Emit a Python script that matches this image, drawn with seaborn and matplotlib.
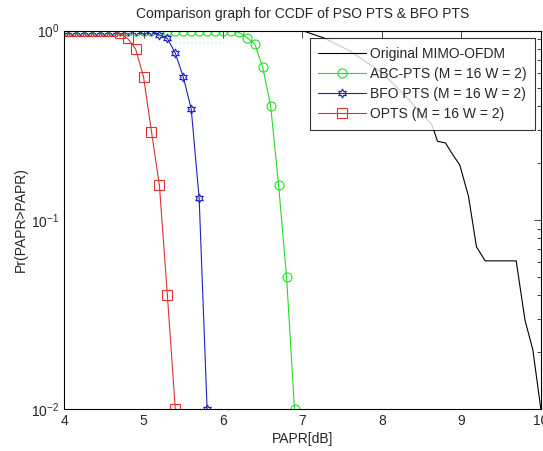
import numpy as np
import pandas as pd
import matplotlib
matplotlib.use("Agg")
import matplotlib.pyplot as plt
import seaborn as sns

# values
orig_x = [4.0, 7.0, 7.27, 7.6, 8.0, 8.3, 8.63, 8.70, 8.80, 8.88, 8.98, 9.09, 9.19, 9.30, 9.69, 9.80, 9.90, 10.0]
orig_y = [1.0, 1.0, 0.915, 0.78, 0.6, 0.45, 0.318, 0.26, 0.255, 0.225, 0.195, 0.133, 0.072, 0.0607, 0.0607, 0.0296, 0.0205, 0.01]

abc_x = [4.0, 4.1, 4.2, 4.3, 4.4, 4.5, 4.6, 4.7, 4.8, 4.9, 5.0, 5.1, 5.2, 5.3, 5.4,
         5.5, 5.6, 5.7, 5.8, 5.9, 6.0, 6.1, 6.2, 6.3, 6.4, 6.5, 6.6, 6.7, 6.8, 6.9]
abc_y = [1.0, 1.0, 1.0, 1.0, 1.0, 1.0, 1.0, 1.0, 1.0, 1.0, 1.0, 1.0, 1.0, 1.0, 1.0,
         1.0, 1.0, 1.0, 1.0, 1.0, 1.0, 1.0, 0.98, 0.92, 0.85, 0.64, 0.40, 0.152, 0.050, 0.01]

bfo_x = [4.0, 4.1, 4.2, 4.3, 4.4, 4.5, 4.6, 4.7, 4.8, 4.9, 5.0, 5.1, 5.2, 5.3, 5.4, 5.5, 5.6, 5.7, 5.8]
bfo_y = [1.0, 1.0, 1.0, 1.0, 1.0, 1.0, 1.0, 1.0, 1.0, 1.0, 1.0, 0.99, 0.95, 0.91, 0.76, 0.57, 0.386, 0.130, 0.01]

opts_x = [4.0, 4.1, 4.2, 4.3, 4.4, 4.5, 4.6, 4.7, 4.8, 4.9, 5.0, 5.1, 5.2, 5.3, 5.4]
opts_y = [1.0, 1.0, 1.0, 1.0, 1.0, 1.0, 1.0, 0.97, 0.91, 0.80, 0.57, 0.293, 0.152, 0.040, 0.01]

labels = ["Original MIMO-OFDM", "ABC-PTS (M = 16 W = 2)", "BFO PTS (M = 16 W = 2)", "OPTS (M = 16 W = 2)"]

sns.set_style("white")
plt.rcParams['font.family'] = ['Liberation Sans', 'DejaVu Sans']

fig = plt.figure(figsize=(5.43, 4.51), dpi=100)
ax = fig.add_axes([0.118, 0.093, 0.878, 0.839])

sns.lineplot(x=orig_x, y=orig_y, ax=ax, color='black', lw=0.8, label=labels[0])
sns.lineplot(x=abc_x, y=abc_y, ax=ax, color='#22dd22', lw=0.8, marker='o', markersize=6.5,
             markerfacecolor='none', markeredgecolor='#22dd22', markeredgewidth=0.8, label=labels[1])
sns.lineplot(x=bfo_x, y=bfo_y, ax=ax, color='#2020c0', lw=0.8, marker=(6, 1, 0), markersize=6.5,
             markerfacecolor='none', markeredgecolor='#2020c0', markeredgewidth=0.8, label=labels[2])
sns.lineplot(x=opts_x, y=opts_y, ax=ax, color='#e03030', lw=0.8, marker='s', markersize=7,
             markerfacecolor='none', markeredgecolor='#e03030', markeredgewidth=0.8, label=labels[3])

ax.set_yscale('log')
ax.set_xlim(4, 10)
ax.set_ylim(0.01, 1)
ax.set_xticks([4, 5, 6, 7, 8, 9, 10])
ax.tick_params(which='both', direction='in', top=True, right=True, labelsize=10)
ax.tick_params(which='major', length=5, width=0.6)
ax.tick_params(which='minor', length=3, width=0.6)
for s in ax.spines.values():
    s.set_color('black')
    s.set_linewidth(0.8)

ax.set_xlabel("PAPR[dB]", fontsize=10, labelpad=3)
ax.set_ylabel("Pr(PAPR>PAPR)", fontsize=10, labelpad=2)
ax.set_title("Comparison graph for CCDF of PSO PTS & BFO PTS", fontsize=10, pad=9)

leg = ax.legend(loc='upper right', bbox_to_anchor=(0.987, 0.980), fontsize=10,
                frameon=True, fancybox=False, handlelength=3.4, borderaxespad=0,
                borderpad=0.6, labelspacing=0.45, handletextpad=0.3)
leg.get_frame().set_edgecolor('black')
leg.get_frame().set_linewidth(0.8)

fig.savefig("out.png", dpi=100)
